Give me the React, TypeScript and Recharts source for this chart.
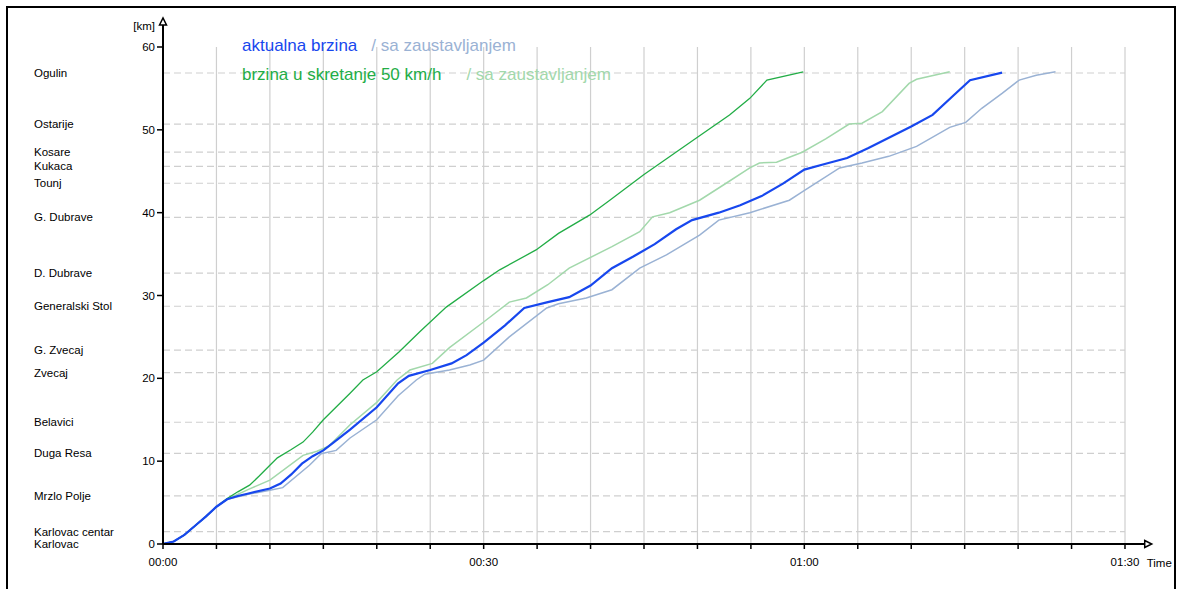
import React from 'react'
import { LineChart, Line, XAxis, YAxis, CartesianGrid, ReferenceLine } from 'recharts'

const W = 1178
const H = 589

// stations along the line (km)
const stationNames = [
  'Ogulin', 'Ostarije', 'Kosare', 'Kukaca', 'Tounj', 'G. Dubrave', 'D. Dubrave',
  'Generalski Stol', 'G. Zvecaj', 'Zvecaj', 'Belavici', 'Duga Resa', 'Mrzlo Polje',
  'Karlovac centar', 'Karlovac',
]
const stationKm = [56.86, 50.7, 47.3, 45.6, 43.55, 39.44, 32.7, 28.7, 23.4, 20.7, 14.7, 10.95, 5.8, 1.49, 0]

const kmTicks = [0, 10, 20, 30, 40, 50, 60]
const timeTicks = [0, 5, 10, 15, 20, 25, 30, 35, 40, 45, 50, 55, 60, 65, 70, 75, 80, 85, 90]

// aktualna brzina
const actualT = [0, 1, 2, 3, 4, 5, 6, 7, 8, 10, 11, 12, 13, 14, 15, 16, 17.5, 20, 22, 23, 25, 27, 28.4, 30, 32, 33.8, 36, 38, 40, 42, 44, 46, 48, 49.5, 52, 54, 56, 58, 60, 62, 64, 66, 68, 70, 72, 74, 75.5, 78.5]
const actualKm = [0, 0.3, 1.1, 2.2, 3.3, 4.5, 5.4, 5.8, 6.1, 6.7, 7.3, 8.4, 9.7, 10.6, 11.3, 12.3, 13.8, 16.5, 19.4, 20.3, 21.0, 21.8, 22.8, 24.3, 26.4, 28.5, 29.2, 29.8, 31.2, 33.3, 34.7, 36.2, 38, 39.1, 40, 40.9, 42, 43.5, 45.2, 45.9, 46.6, 47.8, 49.1, 50.4, 51.8, 54.2, 56, 56.9]

// aktualna brzina / sa zaustavljanjem
const actualStopT = [0, 1, 2, 3, 4, 5, 6, 8, 10, 11.2, 13.7, 14.8, 16.2, 17.5, 20, 22, 23.7, 24.5, 26.8, 28.7, 30, 32.4, 35.9, 37, 39.6, 42, 44.6, 47.1, 50.2, 52, 54.9, 58.6, 59.8, 63.3, 65.4, 67.9, 70.5, 73.6, 75.1, 76.6, 78.5, 80.1, 81.7, 83.5]
const actualStopKm = [0, 0.3, 1.1, 2.2, 3.3, 4.5, 5.4, 6.0, 6.5, 6.8, 9.5, 10.9, 11.3, 12.8, 15, 17.9, 19.8, 20.5, 21.0, 21.6, 22.2, 25, 28.5, 29.0, 29.7, 30.7, 33.3, 34.9, 37.3, 39.1, 40, 41.5, 42.5, 45.4, 46, 46.8, 48, 50.3, 50.9, 52.6, 54.4, 56, 56.6, 57]

// brzina u skretanje 50 km/h
const turnT = [0, 1, 2, 3, 4, 5, 6, 7, 8.1, 9, 10, 10.7, 12, 13.1, 14, 15, 17.5, 18.7, 20, 22.1, 24, 26.5, 30, 31.5, 34.9, 37, 39.9, 41.8, 45, 50, 53, 54.9, 56.5, 59.9]
const turnKm = [0, 0.3, 1.1, 2.2, 3.3, 4.5, 5.5, 6.3, 7.1, 8.2, 9.5, 10.4, 11.4, 12.3, 13.5, 15, 18.2, 19.8, 20.8, 23.2, 25.6, 28.6, 31.8, 33.1, 35.5, 37.5, 39.7, 41.5, 44.6, 49.1, 51.8, 53.8, 56, 57]

// brzina u skretanje 50 km/h / sa zaustavljanjem
const turnStopT = [0, 1, 2, 3, 4, 5, 6, 8, 10, 13.1, 14.4, 15.5, 17.5, 20, 21.9, 23.1, 25.2, 26.8, 30, 32.4, 34, 36, 38, 42, 44.6, 45.8, 47.4, 50.2, 52.5, 54.9, 55.8, 57.4, 59.8, 62, 64.2, 65.4, 67.3, 69.8, 70.5, 73.6]
const turnStopKm = [0, 0.3, 1.1, 2.2, 3.3, 4.5, 5.4, 6.6, 7.7, 10.7, 11.2, 11.8, 14.4, 17.1, 19.8, 21, 21.8, 23.7, 26.8, 29.2, 29.7, 31.3, 33.3, 35.9, 37.7, 39.5, 40, 41.5, 43.4, 45.4, 46, 46.1, 47.3, 48.9, 50.7, 50.8, 52.2, 55.6, 56.1, 57]

const zip = (t: number[], km: number[]) => t.map((v, i) => ({ t: v, km: km[i] }))

const BLUE = '#1747ee'
const LIGHT_BLUE = '#9ab2d4'
const GREEN = '#22ad46'
const LIGHT_GREEN = '#a2d8ab'
const GRID = '#cfcfcf'
const FONT = '"Liberation Sans", Arial, sans-serif'

const fmtTime = (t: number) =>
  t % 30 === 0
    ? `${String(Math.floor(t / 60)).padStart(2, '0')}:${String(t % 60).padStart(2, '0')}`
    : ''

const YArrow = (p: any) => {
  const x = p.x1
  const bottom = Math.max(p.y1, p.y2)
  const tip = Math.min(p.y1, p.y2)
  return (
    <g>
      <line x1={x} y1={bottom} x2={x} y2={tip + 6} stroke="#000" strokeWidth={2} />
      <path d={`M${x - 3.5},${tip + 7} L${x},${tip} L${x + 3.5},${tip + 7} Z`} fill="#fff" stroke="#000" strokeWidth={1.5} />
      <text x={x - 8} y={tip + 8} textAnchor="end" dominantBaseline="central" fontSize={11.5} fill="#000">[km]</text>
    </g>
  )
}

const XArrow = (p: any) => {
  const y = p.y1
  const left = Math.min(p.x1, p.x2)
  const tip = Math.max(p.x1, p.x2)
  return (
    <g>
      <line x1={left} y1={y} x2={tip - 6} y2={y} stroke="#000" strokeWidth={2} />
      <path d={`M${tip - 7},${y - 3.5} L${tip},${y} L${tip - 7},${y + 3.5} Z`} fill="#fff" stroke="#000" strokeWidth={1.5} />
      <text x={tip - 5} y={y + 19} dominantBaseline="central" fontSize={11.5} fill="#000">Time</text>
    </g>
  )
}

const stationLabel = (name: string) => (props: any) => {
  const vb = props.viewBox || {}
  const y = vb.y ?? props.y ?? 0
  return (
    <text x={34} y={y} dominantBaseline="central" fontSize={11.5} fill="#000" fontFamily={FONT}>
      {name}
    </text>
  )
}

const legendRow: React.CSSProperties = {
  position: 'absolute',
  fontSize: 17,
  lineHeight: '20px',
  whiteSpace: 'nowrap',
  fontFamily: FONT,
}

export default function App() {
  return (
    <div style={{ position: 'fixed', left: 0, top: 0, width: W, height: H, overflow: 'hidden', background: '#fff', fontFamily: FONT }}>
      <div style={{ position: 'absolute', left: 6, top: 6, width: 1170, height: 620, border: '2px solid #000', boxSizing: 'border-box' }} />
      <div style={{ position: 'absolute', left: 0, top: 0 }}>
        <LineChart width={W} height={H} margin={{ top: 47, right: 53, bottom: 15, left: 103 }}>
          <CartesianGrid vertical horizontal={false} stroke={GRID} strokeWidth={1.2} />
          <XAxis
            type="number"
            dataKey="t"
            domain={[0, 90]}
            ticks={timeTicks}
            tickFormatter={fmtTime}
            interval={0}
            height={30}
            tickSize={5}
            tickMargin={9}
            axisLine={{ stroke: '#000', strokeWidth: 2 }}
            tickLine={{ stroke: '#000', strokeWidth: 1.5 }}
            tick={{ fontSize: 11.5, fill: '#000' }}
            allowDataOverflow
          />
          <YAxis
            type="number"
            domain={[0, 60]}
            ticks={kmTicks}
            interval={0}
            width={60}
            tickSize={6}
            tickMargin={2}
            axisLine={{ stroke: '#000', strokeWidth: 2 }}
            tickLine={{ stroke: '#000', strokeWidth: 1.5 }}
            tick={{ fontSize: 11.5, fill: '#000' }}
          />
          {stationKm.map((km, i) => (
            <ReferenceLine
              key={stationNames[i]}
              y={km}
              stroke={km === 0 ? 'none' : GRID}
              strokeWidth={1.2}
              strokeDasharray="7 4"
              label={stationLabel(stationNames[i])}
            />
          ))}
          <ReferenceLine segment={[{ x: 0, y: 60 }, { x: 0, y: 63.5 }]} ifOverflow="visible" shape={YArrow} />
          <ReferenceLine segment={[{ x: 90, y: 0 }, { x: 92.5, y: 0 }]} ifOverflow="visible" shape={XArrow} />
          <Line data={zip(turnStopT, turnStopKm)} dataKey="km" type="linear" stroke={LIGHT_GREEN} strokeWidth={1.5} dot={false} activeDot={false} isAnimationActive={false} />
          <Line data={zip(actualStopT, actualStopKm)} dataKey="km" type="linear" stroke={LIGHT_BLUE} strokeWidth={1.5} dot={false} activeDot={false} isAnimationActive={false} />
          <Line data={zip(turnT, turnKm)} dataKey="km" type="linear" stroke={GREEN} strokeWidth={1.3} dot={false} activeDot={false} isAnimationActive={false} />
          <Line data={zip(actualT, actualKm)} dataKey="km" type="linear" stroke={BLUE} strokeWidth={2.2} dot={false} activeDot={false} isAnimationActive={false} />
        </LineChart>
      </div>
      <div style={{ ...legendRow, left: 242, top: 36 }}>
        <span style={{ color: BLUE }}>aktualna brzina</span>
        <span style={{ color: LIGHT_BLUE, marginLeft: 14 }}>/ sa zaustavljanjem</span>
      </div>
      <div style={{ ...legendRow, left: 242, top: 65 }}>
        <span style={{ color: GREEN }}>brzina u skretanje 50 km/h</span>
        <span style={{ color: LIGHT_GREEN, marginLeft: 25 }}>/ sa zaustavljanjem</span>
      </div>
    </div>
  )
}
